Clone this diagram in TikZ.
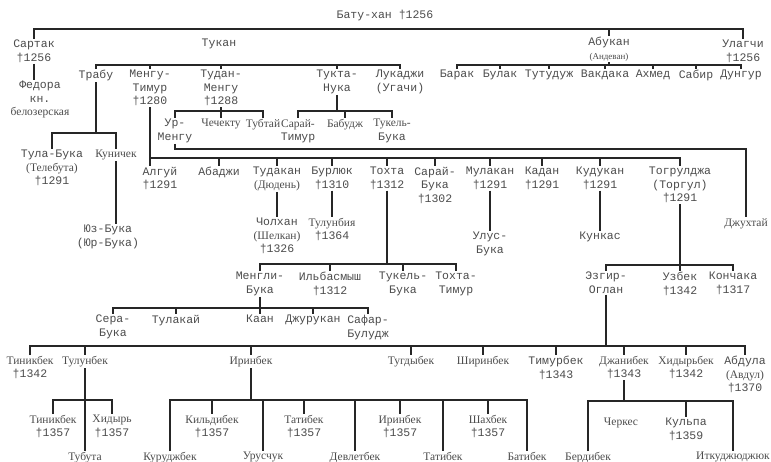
\documentclass[tikz,border=0pt]{standalone}
\usepackage{fontspec}
\newfontfamily\monofont{Liberation Mono}
\newfontfamily\narrowfont{Liberation Serif}
\newcommand{\etroit}{\narrowfont\fontsize{11.5}{13.5}\selectfont}
\newcommand{\petit}{\narrowfont\fontsize{9}{13}\selectfont}

\begin{document}
\begin{tikzpicture}[x=1pt,y=-1pt]
%
% Styles
%
\tikzset{every node/.style={anchor=north, align=center, inner sep=1pt, text=black!70, font=\monofont\fontsize{11.5}{13.5}\selectfont}};%
\tikzset{trait/.style={draw=black!85, line width=1.3pt}};%

\path[use as bounding box, fill=white] (0,0) rectangle (771,462);%

%
% Batu and his sons
%
\node (batu) at (385,9) {Бату-хан †1256};%
\node (sartak) at (34,39) {Сартак\\†1256};%
\node (fedora) at (40,80) {Федора\\кн.\\{\etroit белозерская}};%
\node (tukan) at (219,38) {Тукан};%
\node (abukan) at (609,36) {Абукан\\{\petit (Андеван)}};%
\node (ulagchi) at (743,39) {Улагчи\\†1256};%
\coordinate (batubar) at (385,29);%
\draw[trait] (sartak.north) |- (batubar) -| (ulagchi.north);%
\draw[trait] (batubar -| abukan.north) -- (abukan.north);%
\draw[trait] (sartak.south) -- (sartak.south |- fedora.north);%

% Abukan
\node (barak) at (457,69) {Барак};%
\node (bulak) at (500,69) {Булак};%
\node (tutudzh) at (549,69) {Тутудуж};%
\node (vakdaka) at (605,69) {Вакдака};%
\node (akhmed) at (653,69) {Ахмед};%
\node (sabir) at (696,69) {Сабир};%
\node (dungur) at (741,69) {Дунгур};%
\coordinate (abukanbar) at (609,65);%
\draw[trait] (abukan.south) -- (abukanbar);%
\draw[trait] (barak.north) |- (abukanbar) -| (dungur.north);%
\foreach \n in {bulak,tutudzh,vakdaka,akhmed,sabir}
  \draw[trait] (abukanbar -| \n.north) -- (\n.north);%

% Tukan
\node (trabu) at (96,69) {Трабу};%
\node (mengutimur) at (150,69) {Менгу-\\Тимур\\†1280};%
\node (tudanmengu) at (221,69) {Тудан-\\Менгу\\†1288};%
\node (tuktanuka) at (337,69) {Тукта-\\Нука};%
\node (lukadzhi) at (400,69) {Лукаджи\\(Угачи)};%
\coordinate (tukanbar) at (219,65);%
\draw[trait] (trabu.north) |- (tukanbar) -| (lukadzhi.north);%
\foreach \n in {mengutimur,tudanmengu,tuktanuka}
  \draw[trait] (tukanbar -| \n.north) -- (\n.north);%

% Tudan-Mengu
\node (urmengu) at (175,118) {Ур-\\Менгу};%
\node (chechektu) at (221,118) {\etroit Чечекту};%
\node (tubtai) at (263,118) {\etroit Тубтай};%
\coordinate (tudanbar) at (221,111);%
\draw[trait] (tudanmengu.south) -- (chechektu.north);%
\draw[trait] (urmengu.north) |- (tudanbar) -| (tubtai.north);%

% Tukta-Nuka
\node (saraitimur) at (298,118) {{\etroit Сарай-}\\Тимур};%
\node (babudzh) at (345,118) {\etroit Бабудж};%
\node (tukelbuka) at (392,118) {{\etroit Тукель-}\\Бука};%
\coordinate (tuktabar) at (337,111);%
\draw[trait] (tuktanuka.south) -- (tuktabar);%
\draw[trait] (saraitimur.north) |- (tuktabar) -| (tukelbuka.north);%
\draw[trait] (tuktabar -| babudzh.north) -- (babudzh.north);%

% Ur-Mengu
\node (dzhukhtai) at (746,217) {\etroit Джухтай};%
\coordinate (urmengubar) at (175,149);%
\draw[trait] (urmengu.south) -- (urmengubar) -| (dzhukhtai.north);%

% Trabu
\node (tulabuka) at (52,149) {Тула-Бука\\{\etroit (Телебута)}\\†1291};%
\node (kunichek) at (116,149) {\etroit Куничек};%
\node (yuzbuka) at (108,224) {Юз-Бука\\(Юр-Бука)};%
\coordinate (trabubar) at (96,133);%
\draw[trait] (trabu.south) -- (trabubar);%
\draw[trait] (tulabuka.north) |- (trabubar) -| (kunichek.north);%
\draw[trait] (kunichek.south) -- (kunichek.south |- yuzbuka.north);%

% Mengu-Timur
\node (algui) at (160,166) {Алгуй\\†1291};%
\node (abadzhi) at (219,166) {Абаджи};%
\node (tudakan) at (277,166) {Тудакан\\{\etroit (Дюдень)}};%
\node (burlyuk) at (332,166) {Бурлюк\\†1310};%
\node (tokhta) at (387,166) {Тохта\\†1312};%
\node (saraibuka) at (435,166) {Сарай-\\Бука\\†1302};%
\node (mulakan) at (490,166) {Мулакан\\†1291};%
\node (kadan) at (542,166) {Кадан\\†1291};%
\node (kudukan) at (600,166) {Кудукан\\†1291};%
\node (togruldzha) at (680,166) {Тогрулджа\\(Торгул)\\†1291};%
\coordinate (mengubar) at (150,158);%
\draw[trait] (mengutimur.south) -- (mengutimur.south |- algui.north);%
\draw[trait] (mengubar) -| (togruldzha.north);%
\foreach \n in {abadzhi,tudakan,burlyuk,tokhta,saraibuka,mulakan,kadan,kudukan}
  \draw[trait] (mengubar -| \n.north) -- (\n.north);%

\node (cholkhan) at (277,217) {Чолхан\\{\etroit (Шелкан)}\\†1326};%
\node (tulunbiya) at (332,217) {{\etroit Тулунбия}\\†1364};%
\node (ulusbuka) at (490,231) {Улус-\\Бука};%
\node (kunkas) at (600,231) {Кункас};%
\draw[trait] (tudakan.south) -- (cholkhan.north);%
\draw[trait] (burlyuk.south) -- (tulunbiya.north);%
\draw[trait] (mulakan.south) -- (ulusbuka.north);%
\draw[trait] (kudukan.south) -- (kunkas.north);%

% Tokhta
\node (menglibuka) at (260,271) {Менгли-\\Бука};%
\node (ilbasmysh) at (330,271) {Ильбасмыш\\†1312};%
\node (tukelbuka2) at (403,271) {Тукель-\\Бука};%
\node (tokhtatimur) at (456,271) {Тохта-\\Тимур};%
\coordinate (tokhtabar) at (387,264);%
\draw[trait] (tokhta.south) -- (tokhtabar);%
\draw[trait] (menglibuka.north) |- (tokhtabar) -| (tokhtatimur.north);%
\foreach \n in {ilbasmysh,tukelbuka2}
  \draw[trait] (tokhtabar -| \n.north) -- (\n.north);%

% Togruldzha
\node (ezgiroglan) at (606,271) {Эзгир-\\Оглан};%
\node (uzbek) at (680,271) {Узбек\\†1342};%
\node (konchaka) at (733,271) {Кончака\\†1317};%
\coordinate (togrulbar) at (680,265);%
\draw[trait] (togruldzha.south) -- (uzbek.north);%
\draw[trait] (ezgiroglan.north) |- (togrulbar) -| (konchaka.north);%

% Mengli-Buka
\node (serabuka) at (113,314) {Сера-\\Бука};%
\node (tulakai) at (176,314) {Тулакай};%
\node (kaan) at (260,314) {Каан};%
\node (dzhurukan) at (313,314) {Джурукан};%
\node (safarbuludzh) at (368,314) {Сафар-\\Булудж};%
\coordinate (menglibar) at (260,308);%
\draw[trait] (menglibuka.south) -- (kaan.north);%
\draw[trait] (serabuka.north) |- (menglibar) -| (safarbuludzh.north);%
\foreach \n in {tulakai,dzhurukan}
  \draw[trait] (menglibar -| \n.north) -- (\n.north);%

% Ezgir-Oglan
\node (tinikbek) at (30,355) {{\etroit Тиникбек}\\†1342};%
\node (tulunbek) at (85,355) {\etroit Тулунбек};%
\node (irinbek) at (251,355) {\etroit Иринбек};%
\node (tugdybek) at (411,355) {\etroit Тугдыбек};%
\node (shirinbek) at (483,355) {\etroit Ширинбек};%
\node (timurbek) at (556,355) {Тимурбек\\†1343};%
\node (dzhanibek) at (624,355) {{\etroit Джанибек}\\†1343};%
\node (khidyrbek) at (686,355) {{\etroit Хидырьбек}\\†1342};%
\node (abdula) at (745,355) {Абдула\\{\etroit (Авдул)}\\†1370};%
\coordinate (ezgirbar) at (606,346);%
\draw[trait] (ezgiroglan.south) -- (ezgirbar);%
\draw[trait] (tinikbek.north) |- (ezgirbar) -| (abdula.north);%
\foreach \n in {tulunbek,irinbek,tugdybek,shirinbek,timurbek,dzhanibek,khidyrbek}
  \draw[trait] (ezgirbar -| \n.north) -- (\n.north);%

% Tulunbek
\node (tinikbek2) at (53,414) {{\etroit Тиникбек}\\†1357};%
\node (khidyr) at (112,414) {{\etroit Хидырь}\\†1357};%
\node (tubuta) at (85,451) {\etroit Тубута};%
\coordinate (tulunbekbar) at (85,400);%
\draw[trait] (tulunbek.south) -- (tubuta.north);%
\draw[trait] (tinikbek2.north) |- (tulunbekbar) -| (khidyr.north);%

% Irinbek
\node (kildibek) at (212,414) {{\etroit Кильдибек}\\†1357};%
\node (tatibek) at (304,414) {{\etroit Татибек}\\†1357};%
\node (irinbek2) at (400,414) {{\etroit Иринбек}\\†1357};%
\node (shakhbek) at (488,414) {{\etroit Шахбек}\\†1357};%
\node (kurudzhbek) at (170,451) {\etroit Куруджбек};%
\node (urusuchuk) at (263,451) {\etroit Урусчук};%
\node (devletbek) at (355,451) {\etroit Девлетбек};%
\node (tatibek2) at (443,451) {\etroit Татибек};%
\node (batibek) at (527,451) {\etroit Батибек};%
\coordinate (irinbekbar) at (251,400);%
\draw[trait] (irinbek.south) -- (irinbekbar);%
\draw[trait] (kurudzhbek.north) |- (irinbekbar) -| (batibek.north);%
\foreach \n in {kildibek,urusuchuk,tatibek,devletbek,irinbek2,tatibek2,shakhbek}
  \draw[trait] (irinbekbar -| \n.north) -- (\n.north);%

% Dzhanibek
\node (cherkes) at (621,417) {\etroit Черкес};%
\node (kulpa) at (686,417) {Кульпа\\†1359};%
\node (berdibek) at (588,451) {\etroit Бердибек};%
\node (itkudzh) at (733,451) {\etroit Иткуджюджюк};%
\coordinate (dzhanibekbar) at (624,401);%
\draw[trait] (dzhanibek.south) -- (dzhanibekbar);%
\draw[trait] (berdibek.north) |- (dzhanibekbar) -| (itkudzh.north);%
\draw[trait] (dzhanibekbar -| kulpa.north) -- (kulpa.north);%
\end{tikzpicture}
\end{document}
